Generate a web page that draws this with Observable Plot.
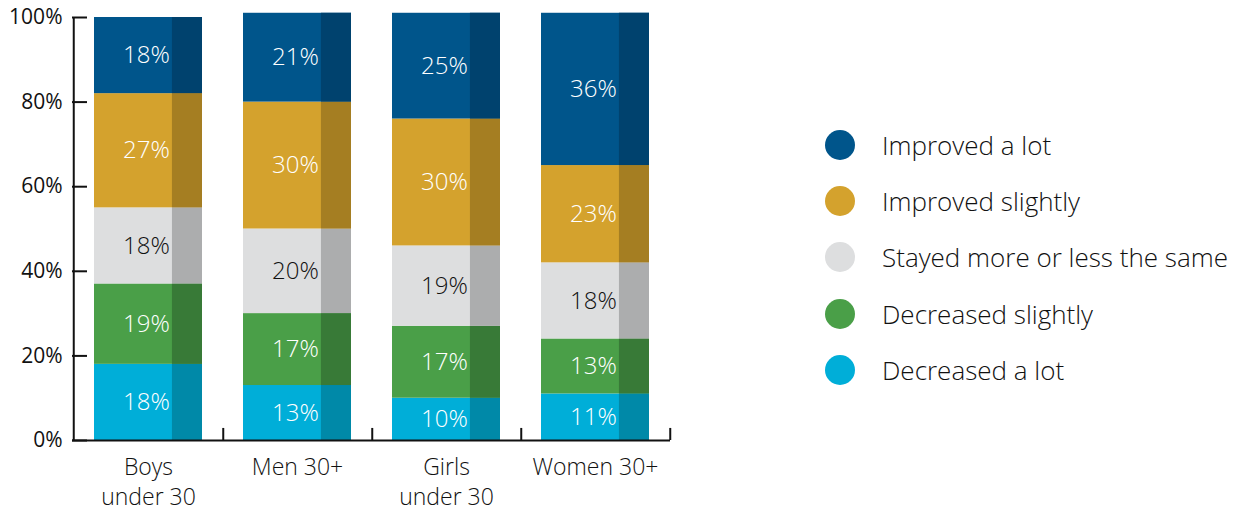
<!DOCTYPE html>
<html>
<head>
<meta charset="utf-8">
<script src="https://cdn.jsdelivr.net/npm/d3@7"></script>
<script src="https://cdn.jsdelivr.net/npm/@observablehq/plot@0.6"></script>
<style>
  html, body { margin: 0; padding: 0; background: #fff; }
  #wrap { position: relative; width: 1237px; height: 510px; font-family: "Open Sans", sans-serif; }
  #chart { position: absolute; left: 0; top: 0; }
  #legend { position: absolute; left: 825px; top: 117px; }
  .item { display: flex; align-items: center; height: 56.2px; }
  .sw { width: 30px; height: 30px; border-radius: 50%; margin-right: 27px; flex: none; }
  .lab { font-size: 26px; font-weight: 300; color: #111; white-space: nowrap; }
</style>
</head>
<body>
<div id="wrap"><div id="chart"></div><div id="legend"></div></div>
<script>
// ---- data ----
const categories = ["Boys\nunder 30", "Men 30+", "Girls\nunder 30", "Women 30+"];
const responses = ["Decreased a lot", "Decreased slightly", "Stayed more or less the same", "Improved slightly", "Improved a lot"];
const decreasedALot     = [18, 13, 10, 11];
const decreasedSlightly = [19, 17, 17, 13];
const stayedSame        = [18, 20, 19, 18];
const improvedSlightly  = [27, 30, 30, 23];
const improvedALot      = [18, 21, 25, 36];
const yTicks = [0, 20, 40, 60, 80, 100];

const colors     = ["#00AED8", "#4A9F48", "#DDDEDF", "#D4A22D", "#00558B"];
const darkColors = ["#0089A8", "#387A37", "#ACADAE", "#A57E22", "#00426E"];

const seriesValues = [decreasedALot, decreasedSlightly, stayedSame, improvedSlightly, improvedALot];
const data = [];
responses.forEach((r, i) => categories.forEach((c, j) => data.push({group: c, response: r, value: seriesValues[i][j]})));
const colorOf = Object.fromEntries(responses.map((r, i) => [r, colors[i]]));
const darkOf  = Object.fromEntries(responses.map((r, i) => [r, darkColors[i]]));

// ---- layout ----
const W = 700, H = 510, mL = 72, mR = 30, mT = 17, mB = 70;
const padIn = 0.278, padOut = padIn / 2;
const step = (W - mL - mR) / categories.length;
const bw = step * (1 - padIn);
const darkWidth = bw * 0.278;

const chart = Plot.plot({
  width: W, height: H,
  marginLeft: mL, marginRight: mR, marginTop: mT, marginBottom: mB,
  x: {domain: categories, paddingInner: padIn, paddingOuter: padOut, label: null},
  y: {domain: [0, 100], label: null},
  color: {type: "identity"},
  style: {fontFamily: "'Open Sans', sans-serif", fontSize: "20px", color: "#111", background: "transparent", overflow: "visible"},
  marks: [
    Plot.barY(data, {x: "group", y: "value", z: "response", fill: d => colorOf[d.response]}),
    Plot.barY(data, {x: "group", y: "value", z: "response", fill: d => darkOf[d.response], insetLeft: bw - darkWidth}),
    Plot.text(data, Plot.stackY({
      x: "group", y: "value", z: "response",
      text: d => d.value + "%",
      fill: d => d.response === "Stayed more or less the same" ? "#111" : "#ffffff",
      fontSize: 24, fontWeight: 300, dx: -2
    })),
    Plot.ruleY([0], {stroke: "#111", strokeWidth: 2}),
    Plot.ruleX([categories[0]], {y1: 0, y2: 100, dx: -step / 2, stroke: "#111", strokeWidth: 2}),
    Plot.ruleX(categories, {y1: 0, y2: 2.85, dx: step / 2, stroke: "#111", strokeWidth: 2}),
    Plot.axisY({ticks: yTicks, tickFormat: d => d + "%", tickSize: -15, tickPadding: 25, strokeWidth: 2, fontSize: 21, fontWeight: 400, fill: "#111"}),
    Plot.axisX({tickSize: 0, tickPadding: 13, fontSize: 23, fontWeight: 300, lineHeight: 1.32, fill: "#111"})
  ]
});
document.getElementById("chart").appendChild(chart);

// ---- legend ----
const legend = document.getElementById("legend");
responses.slice().reverse().forEach(r => {
  const item = document.createElement("div");
  item.className = "item";
  const sw = document.createElement("div");
  sw.className = "sw";
  sw.style.background = colorOf[r];
  const lab = document.createElement("span");
  lab.className = "lab";
  lab.textContent = r;
  item.appendChild(sw); item.appendChild(lab);
  legend.appendChild(item);
});
</script>
</body>
</html>
